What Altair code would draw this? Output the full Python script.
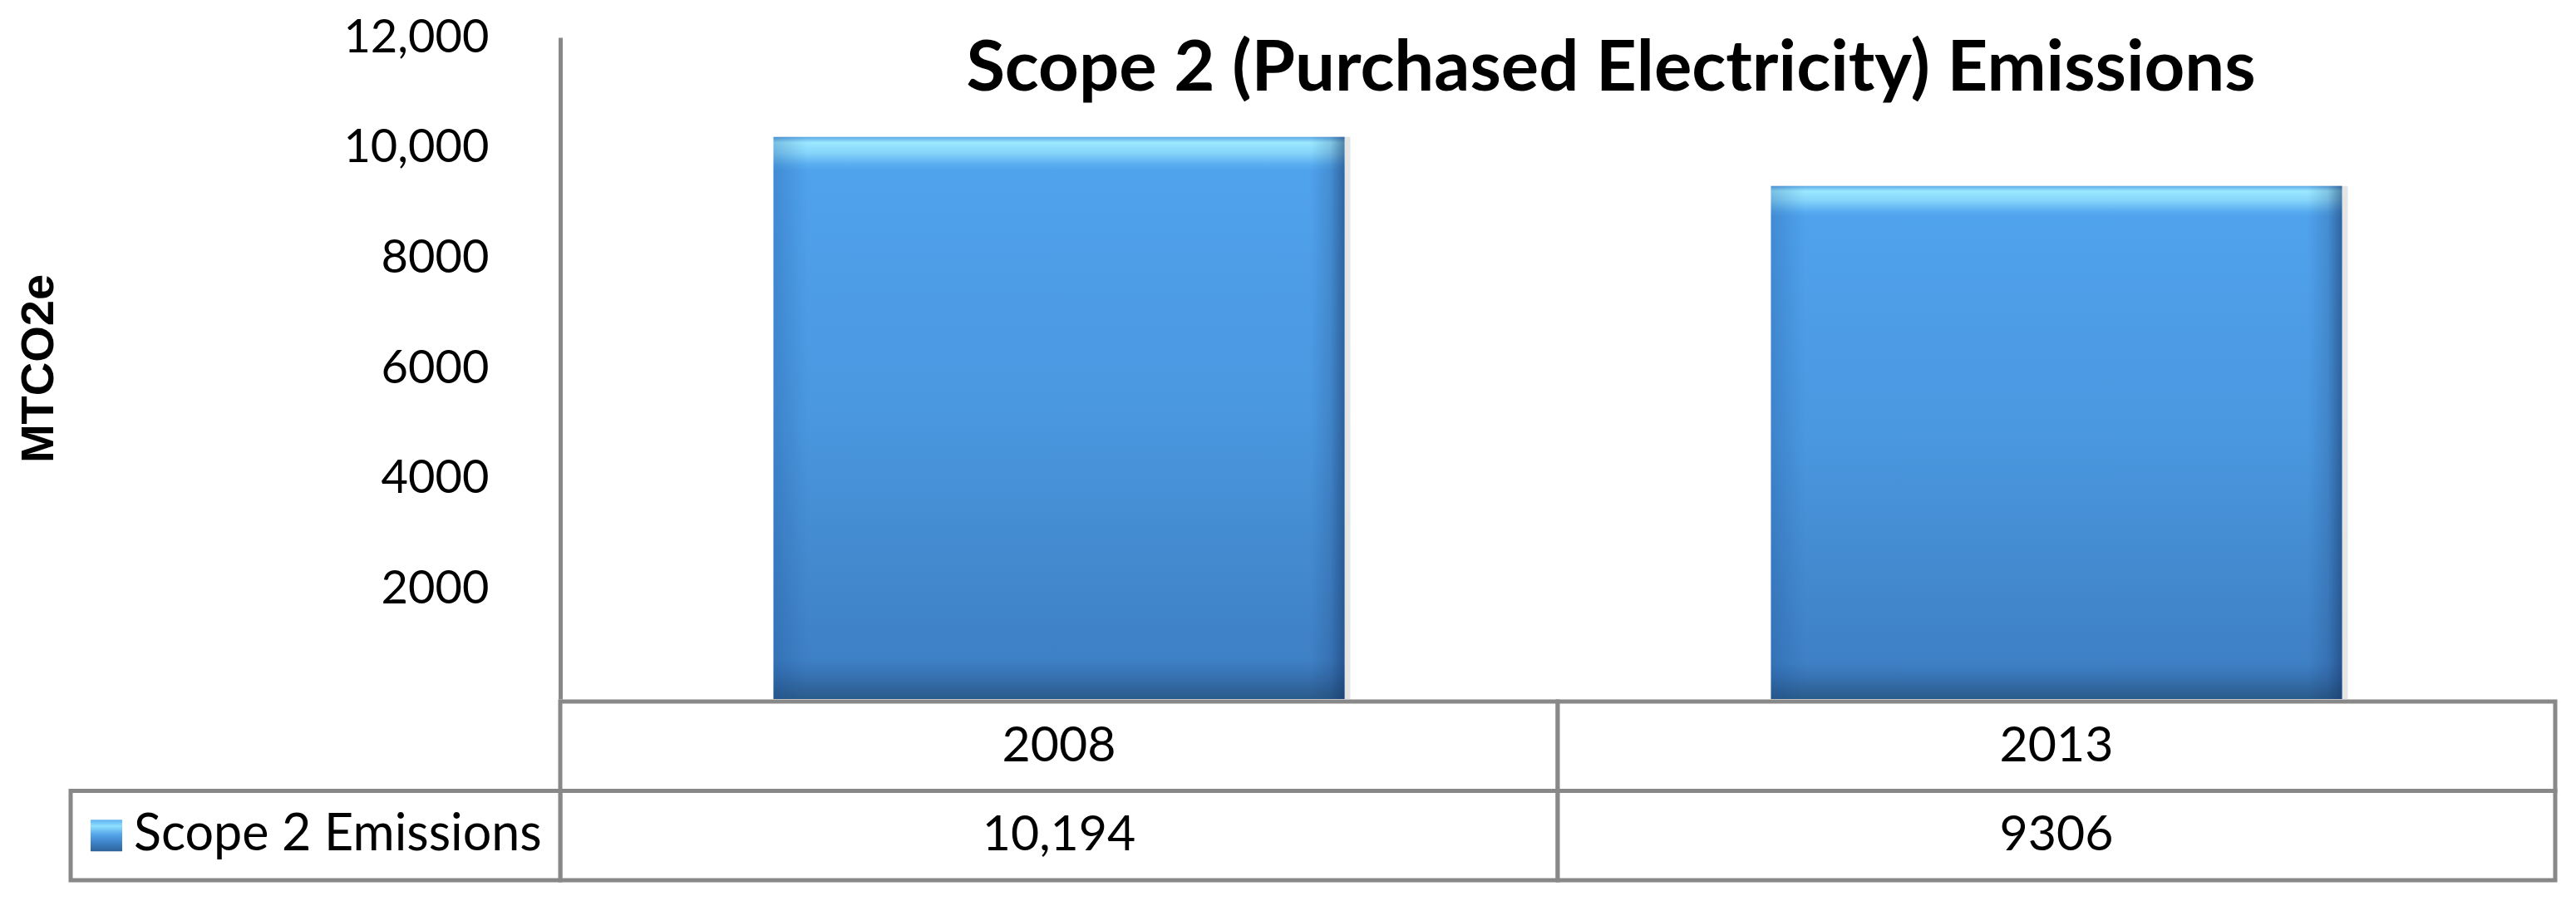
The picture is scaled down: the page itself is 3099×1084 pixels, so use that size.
import altair as alt
import pandas as pd

# ---- data ----
YEARS = ["2008", "2013"]
EMISSIONS = [10194, 9306]
SERIES = "Scope 2 Emissions"
Y_TICKS = [2000, 4000, 6000, 8000, 10000, 12000]
TITLE = "Scope 2 (Purchased Electricity) Emissions"
Y_TITLE = "MTCO2e"
ROW_NAMES = ["Year", SERIES]


def fmt(v):
    return f"{v:,}" if v >= 10000 else str(v)


bars_df = pd.DataFrame({"Year": YEARS, "Emissions": EMISSIONS})
table_df = pd.DataFrame({
    "Year": YEARS * 2,
    "Row": ["Year"] * len(YEARS) + [SERIES] * len(YEARS),
    "Label": YEARS + [fmt(v) for v in EMISSIONS],
})
legend_df = pd.DataFrame({"Row": [SERIES], "Label": [SERIES]})
title_df = pd.DataFrame({"t": [TITLE]})

# ---- styling ----
FONT = "Lato"
AXIS_TITLE_FONT = "Liberation Sans"
GRID = "#888888"
W, H = 2400, 796
TABLE_H = 215
BAR_FRAC = 0.5725

bar_grad = alt.Gradient(
    gradient="linear", x1=0, x2=0, y1=0, y2=1,
    stops=[
        alt.GradientStop(color="#5DA9E6", offset=0.0),
        alt.GradientStop(color="#9BE8FF", offset=0.01),
        alt.GradientStop(color="#86D5FB", offset=0.028),
        alt.GradientStop(color="#58ACF0", offset=0.05),
        alt.GradientStop(color="#4FA2EC", offset=0.06),
        alt.GradientStop(color="#4A97DF", offset=0.5),
        alt.GradientStop(color="#3E80C4", offset=0.93),
        alt.GradientStop(color="#3874B5", offset=0.955),
        alt.GradientStop(color="#2F6398", offset=0.985),
        alt.GradientStop(color="#2A5B8C", offset=1.0),
    ],
)
edge_grad = alt.Gradient(
    gradient="linear", x1=0, x2=1, y1=0, y2=0,
    stops=[
        alt.GradientStop(color="rgba(20,70,140,0.25)", offset=0.0),
        alt.GradientStop(color="rgba(20,70,140,0.08)", offset=0.04),
        alt.GradientStop(color="rgba(20,70,140,0.0)", offset=0.06),
        alt.GradientStop(color="rgba(20,50,100,0.0)", offset=0.94),
        alt.GradientStop(color="rgba(20,50,100,0.18)", offset=0.975),
        alt.GradientStop(color="rgba(20,50,100,0.55)", offset=1.0),
    ],
)
icon_grad = alt.Gradient(
    gradient="linear", x1=0, x2=0, y1=0, y2=1,
    stops=[
        alt.GradientStop(color="#5DB0F0", offset=0.0),
        alt.GradientStop(color="#8FE0FF", offset=0.2),
        alt.GradientStop(color="#58A8EA", offset=0.45),
        alt.GradientStop(color="#3F86CC", offset=0.7),
        alt.GradientStop(color="#2E6399", offset=1.0),
    ],
)

x_band = alt.Scale(paddingInner=0, paddingOuter=0)

base = alt.Chart(bars_df).encode(
    x=alt.X("Year:N", sort=YEARS, scale=x_band, axis=None),
    y=alt.Y(
        "Emissions:Q",
        scale=alt.Scale(domain=[0, 12000], nice=False, zero=True),
        axis=alt.Axis(
            values=Y_TICKS,
            labelExpr="datum.value >= 10000 ? format(datum.value, ',') : format(datum.value, 'd')",
            title=Y_TITLE,
            titleFont=AXIS_TITLE_FONT, titleFontSize=56, titleFontWeight="bold", titleColor="black",
            titlePadding=399,
            labelFont=FONT, labelFontSize=56, labelColor="black", labelPadding=86,
            ticks=False, tickSize=0, grid=False,
            domainColor=GRID, domainWidth=5,
        ),
    ),
)

shadow = base.mark_bar(color="#000000", opacity=0.10, xOffset=7,
                       width=alt.RelativeBandSize(BAR_FRAC))
main = base.mark_bar(color=bar_grad, width=alt.RelativeBandSize(BAR_FRAC))
edges = base.mark_bar(color=edge_grad, width=alt.RelativeBandSize(BAR_FRAC))
title = alt.Chart(title_df).mark_text(
    font=FONT, fontSize=85, fontWeight="bold", color="black",
    align="center", baseline="alphabetic",
).encode(text="t:N", x=alt.value(1264), y=alt.value(64))

top = alt.layer(shadow, main, edges, title).properties(width=W, height=H)

# ---- data table under the plot ----
tx = alt.X("Year:N", sort=YEARS, scale=x_band, axis=None)
ty = alt.Y("Row:N", sort=ROW_NAMES, scale=alt.Scale(paddingInner=0, paddingOuter=0), axis=None)

cells = alt.Chart(table_df).mark_rect(fill="white", stroke=GRID, strokeWidth=5).encode(x=tx, y=ty)
cell_text = alt.Chart(table_df).mark_text(font=FONT, fontSize=59, color="black").encode(
    x=tx, y=ty, text="Label:N")
legend_cell = alt.Chart(legend_df).mark_rect(fill="white", stroke=GRID, strokeWidth=5).encode(
    x=alt.value(-589), x2=alt.value(0), y=ty)
legend_icon = alt.Chart(legend_df).mark_square(size=1444, color=icon_grad, opacity=1, filled=True).encode(
    x=alt.value(-546), y=ty)
legend_text = alt.Chart(legend_df).mark_text(font=FONT, fontSize=61, color="black", align="left").encode(
    x=alt.value(-513), y=ty, text="Label:N")

table = alt.layer(cells, cell_text, legend_cell, legend_icon, legend_text).properties(
    width=W, height=TABLE_H)

chart = alt.vconcat(top, table, spacing=0).properties(
    padding={"left": 10, "top": 9, "right": 5, "bottom": 5},
    background="white",
).configure_view(stroke=None)

chart.save("out.html", embed_options={"renderer": "svg", "actions": False})
